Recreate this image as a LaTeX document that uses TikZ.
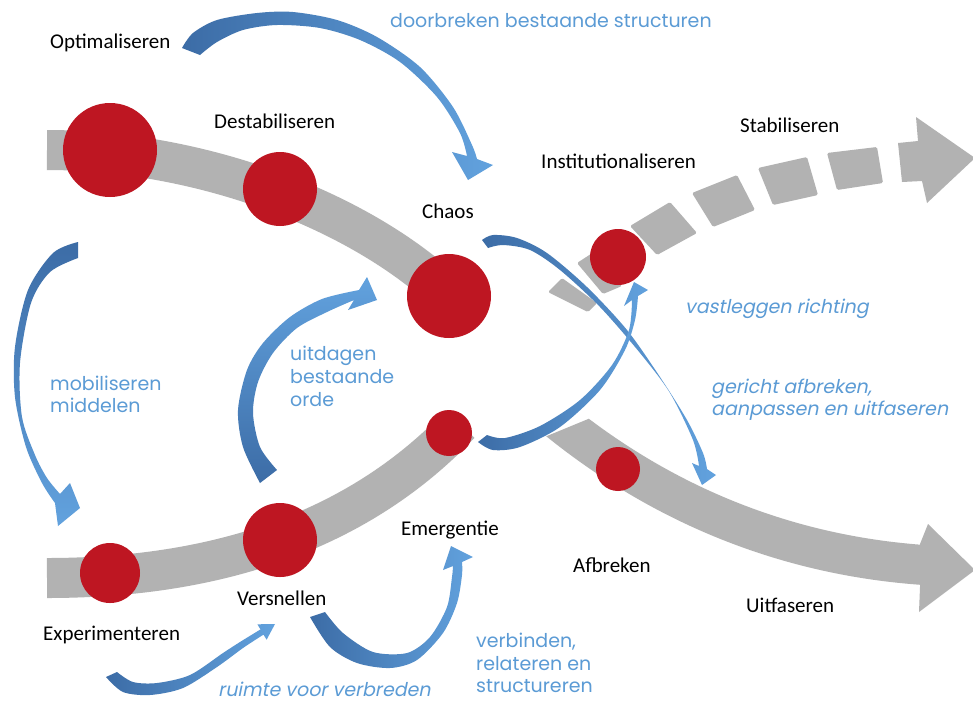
\documentclass[tikz,border=0pt]{standalone}
\usepackage{fontspec}
\setmainfont{Carlito}
\newfontfamily\bluefont{Poppins}
\newfontfamily\blueit{Poppins}[FakeSlant=0.2]
\definecolor{bandgray}{RGB}{178,178,178}
\definecolor{dotred}{RGB}{190,22,34}
\definecolor{txtblue}{RGB}{91,155,213}
\definecolor{arrdark}{RGB}{60,108,166}
\definecolor{arrlight}{RGB}{98,162,222}
\tikzset{
  band/.style={line width=40pt, draw=bandgray},
  dashseg/.style={fill=bandgray, rounded corners=1.5pt},
  dot/.style={circle, fill=dotred, inner sep=0pt},
  lbl/.style={font=\fontsize{21}{24}\selectfont, text=black, inner sep=0pt, anchor=base west},
  blbl/.style={font=\bluefont\fontsize{19}{23}\selectfont, text=txtblue, inner sep=0pt, anchor=base west},
  bit/.style={font=\blueit\fontsize{19}{23}\selectfont, text=txtblue, inner sep=0pt, anchor=base west},
  arrLR/.style={left color=arrdark, right color=arrlight},
  arrTB/.style={top color=arrdark, bottom color=arrlight},
  arrBT/.style={bottom color=arrdark, top color=arrlight},
}
\begin{document}
\begin{tikzpicture}[x=1pt,y=-1pt]
\useasboundingbox (0,0) rectangle (973,702);
\fill[white] (0,0) rectangle (973,702);

% grey bands
\draw[band] (47,150) .. controls (200,150) and (360,210) .. (450,296);
\draw[band] (47,578) .. controls (200,578) and (350,540) .. (460,424);
\begin{scope}
  \clip (530,443) -- (610,410) -- (973,380) -- (973,702) -- (530,702) -- cycle;
  \draw[band] (540,405) .. controls (650,500) and (780,555) .. (924,565);
\end{scope}
\fill[bandgray] (920,544) -- (928,524) -- (975,570) -- (919,612) -- (920,587) -- cycle;
% dashed band towards Stabiliseren
\fill[dashseg] (548,292) -- (562,278) -- (597,303) -- (588,312) -- cycle;
\fill[dashseg] (577,263) -- (597,250) -- (622,286) -- (603,294) -- cycle;
\fill[dashseg] (630,226) -- (670,202) -- (697,233) -- (657,255) -- cycle;
\fill[dashseg] (692,193) -- (737,175) -- (755,210) -- (713,227) -- cycle;
\fill[dashseg] (758,168) -- (807,157) -- (818,195) -- (773,205) -- cycle;
\fill[dashseg] (827,153) -- (877,147) -- (883,183) -- (837,190) -- cycle;
\fill[bandgray] (898,143) -- (918,141) -- (916,117) -- (975,158) -- (927,203) -- (922,181) -- (902,182) -- cycle;

% red dots
\node[dot, minimum size=94pt] (d1) at (110,150) {};
\node[dot, minimum size=74pt] (d2) at (280,189) {};
\node[dot, minimum size=84pt] (d3) at (449,296) {};
\node[dot, minimum size=56pt] (d4) at (618,257) {};
\node[dot, minimum size=46pt] (d5) at (449,433) {};
\node[dot, minimum size=44pt] (d6) at (618,469) {};
\node[dot, minimum size=60pt] (d7) at (110,573) {};
\node[dot, minimum size=74pt] (d8) at (280,540) {};

% blue curved arrows
% A doorbreken
\shade[arrLR] plot[smooth] coordinates {(182,48) (193,33) (217,20) (257,13) (293,12) (337,20) (377,37) (420,67) (453,107) (472,145) (477,159)}
  -- (493,165) -- (468,180) -- (452,152) --
  plot[smooth] coordinates {(467,156) (460,133) (437,97) (400,62) (360,40) (320,28) (277,25) (243,30) (217,42) (200,55)} -- cycle;
% B mobiliseren
\shade[arrTB] plot[smooth] coordinates {(78,242) (53,253) (28,290) (15,347) (15,397) (26,447) (42,483) (55,503)}
  -- (58,526) -- (80,508) -- (70,483) --
  plot[smooth] coordinates {(60,494) (47,478) (35,455) (22,417) (20,363) (31,303) (50,272) (78,258)} -- cycle;
% C uitdagen
\shade[arrBT] plot[smooth] coordinates {(260,483) (243,447) (238,410) (247,370) (263,343) (290,317) (322,299) (359,290)}
  -- (367,277) -- (377,300) -- (348,310) --
  plot[smooth] coordinates {(354,300) (327,312) (297,328) (273,353) (258,382) (253,413) (260,447) (277,470)} -- cycle;
% D gericht afbreken
\shade[arrLR] plot[smooth] coordinates {(482,240) (493,235) (517,238) (547,253) (587,287) (627,330) (660,377) (687,420) (703,453) (707,469)}
  -- (716,475) -- (702,485) -- (692,463) --
  plot[smooth] coordinates {(699,466) (693,440) (670,393) (640,353) (600,307) (560,270) (530,250) (503,245) (488,248)} -- cycle;
% E vastleggen
\shade[arrLR] plot[smooth] coordinates {(478,442) (493,450) (520,447) (560,427) (600,390) (625,350) (635,320) (638,296)}
  -- (648,290) -- (634,282) -- (624,306) --
  plot[smooth] coordinates {(632,300) (629,330) (612,365) (580,400) (540,426) (505,438) (487,435)} -- cycle;
% F verbinden
\shade[arrLR] plot[smooth] coordinates {(310,617) (330,647) (357,663) (390,668) (417,660) (443,633) (457,603) (462,575) (462,562)}
  -- (473,557) -- (451,546) -- (443,570) --
  plot[smooth] coordinates {(453,566) (452,577) (447,607) (430,637) (407,653) (373,652) (343,633) (325,612)} -- cycle;
% G ruimte
\shade[arrLR] plot[smooth] coordinates {(106,677) (123,692) (150,695) (183,688) (217,667) (243,648) (263.5,634.6)}
  -- (266.6,639.7) -- (275,624) -- (257.4,624.3) --
  plot[smooth] coordinates {(260.5,629.4) (240,642) (223,653) (190,675) (157,683) (133,682) (117,672)} -- cycle;

% black labels
\node[lbl] (optimaliseren) at (50,48) {Optimaliseren};
\node[lbl] (destab) at (214,128) {Destabiliseren};
\node[lbl] (chaos) at (422,218) {Chaos};
\node[lbl] (instit) at (541,168) {Institutionaliseren};
\node[lbl] (stabil) at (740,132) {Stabiliseren};
\node[lbl] (experim) at (43,640) {Experimenteren};
\node[lbl] (versnel) at (237,605) {Versnellen};
\node[lbl] (emerg) at (401,535) {Emergentie};
\node[lbl] (afbrek) at (573,572) {Afbreken};
\node[lbl] (uitfas) at (746,612) {Uitfaseren};

% blue labels
\node[blbl] (t1) at (390,27) {doorbreken bestaande structuren};
\node[blbl] (t2a) at (50,390) {mobiliseren};
\node[blbl] (t2b) at (50,412) {middelen};
\node[blbl] (t3a) at (290,360) {uitdagen};
\node[blbl] (t3b) at (290,383) {bestaande};
\node[blbl] (t3c) at (290,406) {orde};
\node[bit] (t4) at (685,313) {vastleggen richting};
\node[bit] (t5a) at (711,393) {gericht afbreken,};
\node[bit] (t5b) at (711,415) {aanpassen en uitfaseren};
\node[blbl] (t6a) at (476,647) {verbinden,};
\node[blbl] (t6b) at (476,670) {relateren en};
\node[blbl] (t6c) at (476,692) {structureren};
\node[bit] (t7) at (218,696) {ruimte voor verbreden};
\end{tikzpicture}
\end{document}
